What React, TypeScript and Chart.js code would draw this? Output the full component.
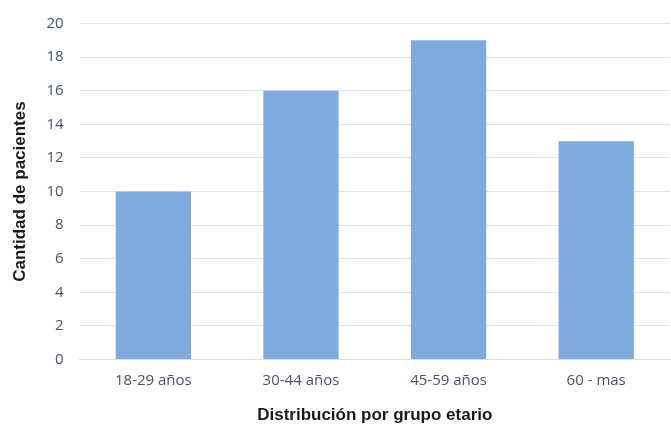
import React, { useEffect, useRef } from "react";
import { Chart, registerables } from "chart.js";

Chart.register(...registerables);

const categories = ["18-29 años", "30-44 años", "45-59 años", "60 - mas"];
const values = [10, 16, 19, 13];
const yTitle = "Cantidad de pacientes";
const xTitle = "Distribución por grupo etario";

export default function App() {
  const ref = useRef<HTMLCanvasElement>(null);
  useEffect(() => {
    document.body.style.margin = "0";
    const chart = new Chart(ref.current!, {
      type: "bar",
      data: {
        labels: categories,
        datasets: [
          {
            data: values,
            backgroundColor: "#7FAADF",
            barPercentage: 0.51,
            categoryPercentage: 1,
          },
        ],
      },
      options: {
        animation: false,
        responsive: false,
        maintainAspectRatio: false,
        layout: { padding: { top: 22, right: 1, left: 10, bottom: 0 } },
        plugins: { legend: { display: false }, tooltip: { enabled: false } },
        scales: {
          x: {
            grid: { display: false, drawTicks: false },
            border: { color: "#D9DEE6" },
            ticks: {
              color: "#44546A",
              font: { family: "'Open Sans'", size: 15 },
              padding: 12,
            },
            title: {
              display: true,
              text: xTitle,
              color: "#1A1A1A",
              font: { family: "'Liberation Sans'", size: 17, weight: "bold" },
              padding: { top: 4, bottom: 0 },
            },
          },
          y: {
            min: 0,
            max: 20,
            ticks: {
              stepSize: 2,
              color: "#44546A",
              font: { family: "'Open Sans'", size: 15, lineHeight: 1 },
              padding: 16,
            },
            grid: { color: "#DDE3EA", drawTicks: false },
            border: { display: false },
            title: {
              display: true,
              text: yTitle,
              color: "#1A1A1A",
              font: { family: "'Liberation Sans'", size: 17, weight: "bold" },
              padding: { top: 0, bottom: 0 },
            },
          },
        },
      },
    });
    return () => chart.destroy();
  }, []);
  return (
    <div style={{ width: 671, height: 426 }}>
      <canvas ref={ref} width={671} height={426} style={{ width: 671, height: 426 }} />
    </div>
  );
}
